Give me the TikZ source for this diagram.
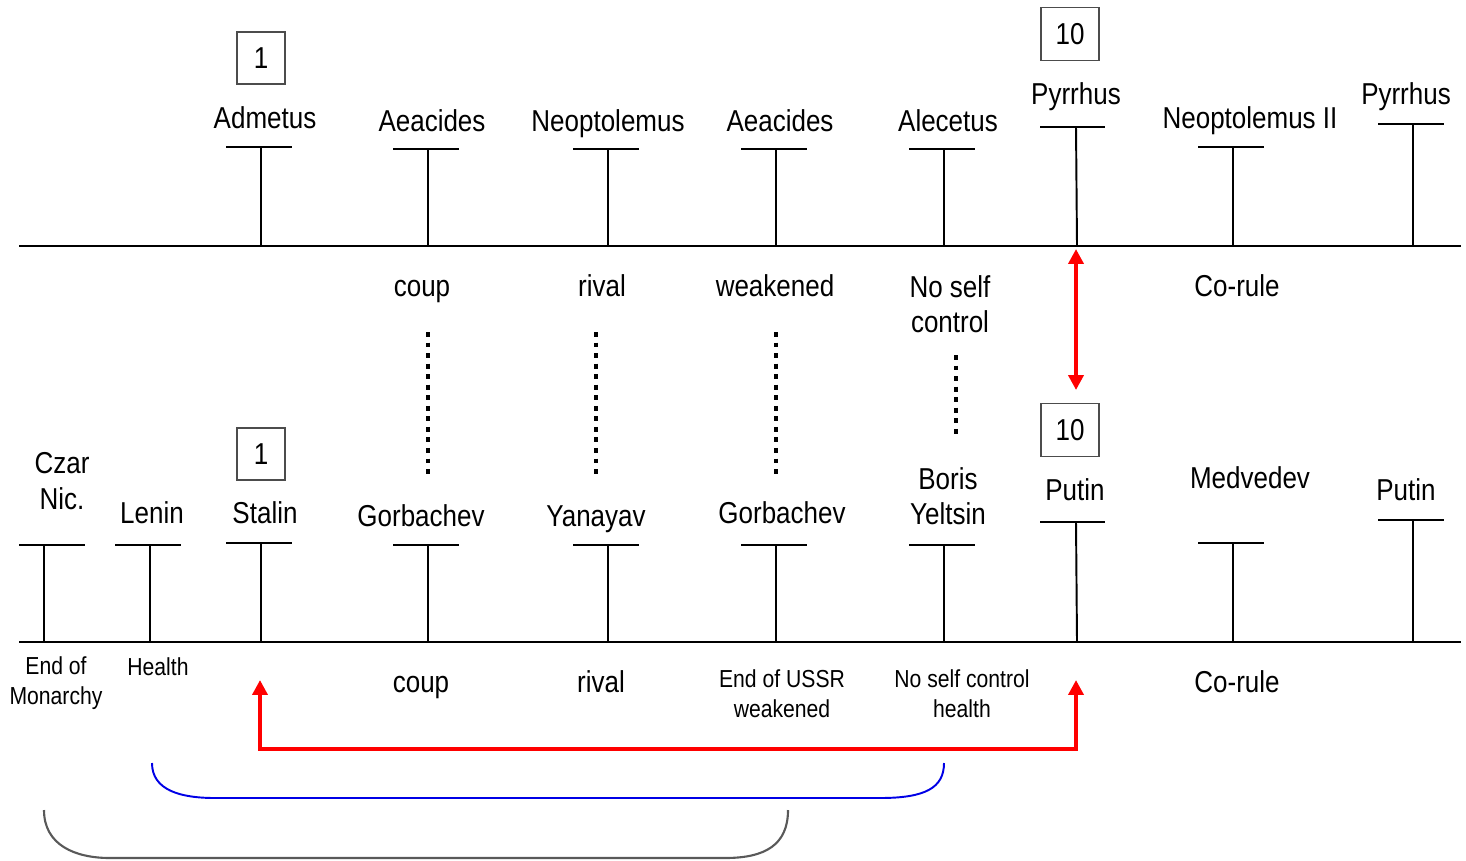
\documentclass[tikz,border=0pt]{standalone}
\usepackage{fontspec}
\setmainfont{Liberation Sans}[FakeStretch=0.86]
\usetikzlibrary{arrows.meta}
\newcommand\tbar[4]{% x of stem, centre of bar, bar y, axis y
  \draw[tickline] (#2-33,#3) -- (#2+33,#3);
  \draw[tickline] (#1,#3) -- (#1,#4);}
\begin{document}
\begin{tikzpicture}[x=0.02cm,y=-0.02cm,
  lbl/.style={font=\fontsize{17.2}{20.4}\selectfont, inner sep=0pt, text height=0.72em, text depth=0.21em},
  mlbl/.style={font=\fontsize{17.2}{20.2}\selectfont, inner sep=0pt, align=center},
  slbl/.style={font=\fontsize{14}{17}\selectfont, inner sep=0pt, text height=0.72em, text depth=0.21em},
  mslbl/.style={font=\fontsize{14}{17}\selectfont, inner sep=0pt, align=center},
  axisline/.style={line width=1.1pt},
  tickline/.style={line width=1.1pt},
  numbox/.style={draw=black!70, line width=0.6pt, font=\fontsize{17.2}{20}\selectfont, inner sep=0pt},
  dotline/.style={line width=2.6pt, dash pattern=on 2.8pt off 3.2pt},
  redarrow/.style={draw=red, line width=2.3pt, {Triangle[length=8.5pt,width=8.5pt]}-{Triangle[length=8.5pt,width=8.5pt]}},
]
\useasboundingbox (0,0) rectangle (1466,860);
% axes
\coordinate (tl) at (19,246); \coordinate (tr) at (1461,246);
\coordinate (bl) at (19,642); \coordinate (br) at (1461,642);
\draw[axisline] (tl) -- (tr);
\draw[axisline] (bl) -- (br);
% top ticks
\tbar{261}{259}{147}{246}
\tbar{428}{426}{149}{246}
\tbar{608}{606}{149}{246}
\tbar{776}{774}{149}{246}
\tbar{944}{942}{149}{246}
\draw[tickline] (1040,127) -- (1105,127);
\draw[tickline] (1076,127) -- (1077,246);
\tbar{1233}{1231}{147}{246}
\tbar{1413}{1411}{124}{246}
% bottom ticks
\tbar{44}{52}{545}{642}
\tbar{150}{148}{545}{642}
\tbar{261}{259}{543}{642}
\tbar{428}{426}{545}{642}
\tbar{608}{606}{545}{642}
\tbar{776}{774}{545}{642}
\tbar{944}{942}{545}{642}
\draw[tickline] (1040,522) -- (1105,522);
\draw[tickline] (1076,522) -- (1077,642);
\tbar{1233}{1231}{543}{642}
\tbar{1413}{1411}{520}{642}
% boxes
\node[numbox, minimum width=0.96cm, minimum height=1.04cm] (b1t) at (261,58) {1};
\node[numbox, minimum width=1.16cm, minimum height=1.06cm] (b10t) at (1070,34) {10};
\node[numbox, minimum width=0.96cm, minimum height=1.04cm] (b1b) at (261,454) {1};
\node[numbox, minimum width=1.16cm, minimum height=1.06cm] (b10b) at (1070,430) {10};
% top labels
\node[lbl] (admetus) at (265,124) {Admetus};
\node[lbl] (aeac1) at (432,127) {Aeacides};
\node[lbl] (neop) at (608,127) {Neoptolemus};
\node[lbl] (aeac2) at (780,127) {Aeacides};
\node[lbl] (alec) at (948,127) {Alecetus};
\node[lbl] (pyr1) at (1076,100) {Pyrrhus};
\node[lbl] (neop2) at (1250,124) {Neoptolemus II};
\node[lbl] (pyr2) at (1406,100) {Pyrrhus};
% middle labels
\node[lbl] (coup1) at (422,292) {coup};
\node[lbl] (rival1) at (602,292) {rival};
\node[lbl] (weak1) at (775,292) {weakened};
\node[mlbl] (nsc1) at (950,304) {No self\\control};
\node[lbl] (corule1) at (1237,292) {Co-rule};
% bottom labels
\node[mlbl] (czar) at (62,481) {Czar\\Nic.};
\node[lbl] (lenin) at (152,519) {Lenin};
\node[lbl] (stalin) at (265,519) {Stalin};
\node[lbl] (gorb1) at (421,522) {Gorbachev};
\node[lbl] (yana) at (596,522) {Yanayav};
\node[lbl] (gorb2) at (782,519) {Gorbachev};
\node[mlbl] (boris) at (948,496) {Boris\\Yeltsin};
\node[lbl] (putin1) at (1075,496) {Putin};
\node[lbl] (medv) at (1250,484) {Medvedev};
\node[lbl] (putin2) at (1406,496) {Putin};
% below labels
\node[mslbl] (endmon) at (56,683) {End of\\Monarchy};
\node[slbl] (health) at (158,671) {Health};
\node[lbl] (coup2) at (421,688) {coup};
\node[lbl] (rival2) at (601,688) {rival};
\node[mslbl] (endussr) at (782,694) {End of USSR\\weakened};
\node[mslbl] (nsc2) at (962,694) {No self control\\health};
\node[lbl] (corule2) at (1237,688) {Co-rule};
% dotted links
\coordinate (d1a) at (428,332); \coordinate (d1b) at (428,474);
\coordinate (d2a) at (596,332); \coordinate (d2b) at (596,474);
\coordinate (d3a) at (776,332); \coordinate (d3b) at (776,474);
\coordinate (d4a) at (956,355); \coordinate (d4b) at (956,435);
\draw[dotline] (d1a) -- (d1b);
\draw[dotline] (d2a) -- (d2b);
\draw[dotline] (d3a) -- (d3b);
\draw[dotline] (d4a) -- (d4b);
% red arrows
\coordinate (ra) at (1076,249); \coordinate (rb) at (1076,390);
\draw[redarrow] (ra) -- (rb);
\coordinate (sa) at (260,680); \coordinate (sb) at (1076,680);
\draw[redarrow] (sa) -- (260,749) -- (1076,749) -- (sb);
% brackets
\coordinate (bla) at (152,763); \coordinate (blb) at (944,763);
\draw[draw={rgb,255:red,0;green,0;blue,230}, line width=1.1pt]
  (bla) .. controls (152,790) and (180,798) .. (215,798) -- (880,798)
  .. controls (925,798) and (944,788) .. (blb);
\coordinate (gra) at (44,810); \coordinate (grb) at (788,810);
\draw[draw=black!65, line width=1.2pt]
  (gra) .. controls (44,845) and (75,858) .. (110,858) -- (725,858)
  .. controls (765,858) and (788,845) .. (grb);
\end{tikzpicture}
\end{document}
